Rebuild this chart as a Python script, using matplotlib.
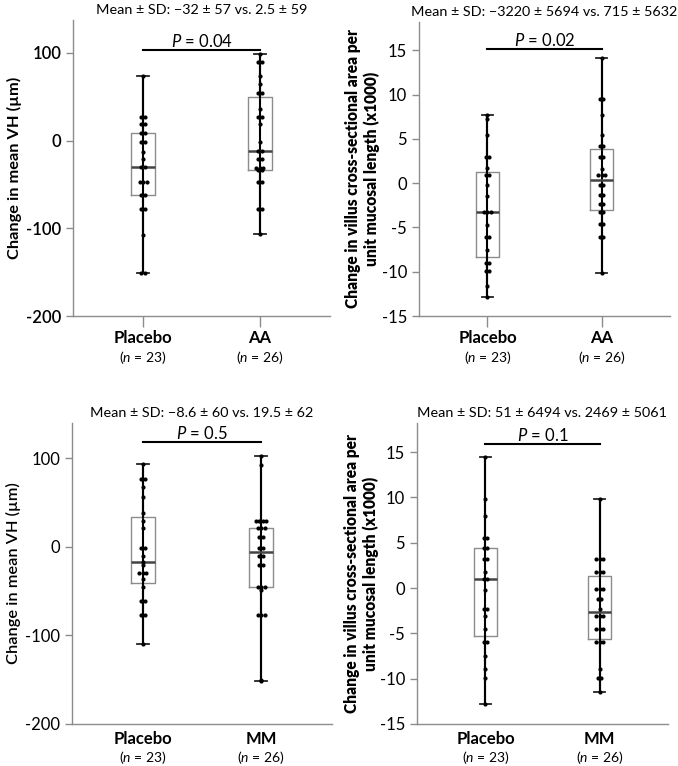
import matplotlib
matplotlib.use("Agg")
import matplotlib.pyplot as plt
import numpy as np
from collections import Counter

plt.rcParams['font.family'] = ['Lato', 'DejaVu Sans']
plt.rcParams['mathtext.fontset'] = 'custom'
plt.rcParams['mathtext.it'] = 'Lato:italic'
plt.rcParams['mathtext.rm'] = 'Lato'

# ---- data ----
groups_top = ["Placebo", "AA"]
groups_bot = ["Placebo", "MM"]
n_labels = ["($\\it{n}$ = 23)", "($\\it{n}$ = 26)"]

vh_placebo_aa = [-151, -151, -108, -78, -78, -62, -62, -47, -47, -47, -30, -30, -21, -13,
                 -2, -2, 9, 9, 19, 19, 27, 27, 74]
vh_aa = [-106, -78, -78, -47, -47, -34, -34, -31, -31, -31, -21, -21, -12, -12, -2, 19,
         27, 27, 36, 54, 54, 64, 74, 90, 90, 99]
area_placebo_aa = [-12.8, -11.6, -9.9, -9.9, -9.0, -9.0, -7.6, -6.1, -6.1, -4.7, -3.2, -3.2,
                   -3.2, -1.4, -0.2, 0.9, 0.9, 1.7, 3.0, 3.0, 5.4, 7.3, 7.7]
area_aa = [-10.1, -6.05, -6.05, -4.66, -4.66, -3.2, -3.2, -2.3, -2.3, -1.35, -1.35, -0.23,
           -0.23, 0.9, 0.9, 0.9, 1.65, 2.97, 2.97, 4.17, 4.17, 5.4, 7.67, 9.55, 9.55, 14.17]
vh_placebo_mm = [-110, -77, -77, -61, -61, -45, -37, -30, -30, -30, -21, -17, -11, -1, -1,
                 21, 29, 38, 56, 67, 76, 76, 93]
vh_mm = [-151, -150, -77, -77, -77, -49, -45, -45, -45, -21, -21, -11, -11, -1, -1, 11, 11,
         21, 21, 21, 29, 29, 29, 29, 92, 102]
area_placebo_mm = [-12.75, -9.9, -8.96, -7.5, -6.0, -6.0, -4.55, -3.1, -2.27, -2.27, -0.18,
                   0.96, 0.96, 1.77, 3.24, 3.24, 4.45, 4.45, 5.55, 5.55, 7.9, 9.8, 14.4]
area_mm = [-11.5, -9.88, -9.88, -8.96, -5.95, -5.95, -5.95, -4.55, -4.55, -4.55, -3.1, -3.1,
           -3.1, -2.3, -1.25, -1.25, -0.15, -0.15, -0.15, 1.77, 1.77, 1.77, 3.24, 3.24, 3.24, 9.86]

titles = ["Mean \u00b1 SD: \u221232 \u00b1 57 vs. 2.5 \u00b1 59",
          "Mean \u00b1 SD: \u22123220 \u00b1 5694 vs. 715 \u00b1 5632",
          "Mean \u00b1 SD: \u22128.6 \u00b1 60 vs. 19.5 \u00b1 62",
          "Mean \u00b1 SD: 51 \u00b1 6494 vs. 2469 \u00b1 5061"]
p_texts = ["0.04", "0.02", "0.5", "0.1"]
p_levels = [103, 15.2, 117.7, 15.85]
ylabel_vh = "Change in mean VH (\u00b5m)"
ylabel_area = "Change in villus cross-sectional area per\nunit mucosal length (x1000)"
yticks_vh = [-200, -100, 0, 100]
yticks_area = [-15, -10, -5, 0, 5, 10, 15]

W, H = 678, 766
fig = plt.figure(figsize=(W / 100, H / 100), dpi=100)


def ax_at(l, r, t, b):
    return fig.add_axes([l / W, 1 - b / H, (r - l) / W, (b - t) / H])


panels = [
    dict(ax=ax_at(73, 330, 20, 316), data=[vh_placebo_aa, vh_aa], cats=groups_top,
         ylim=(-200, 137.5), yticks=yticks_vh, ylabel=ylabel_vh, tickw='semibold',
         labw='bold', xtick=True, labx=-0.228),
    dict(ax=ax_at(419, 670, 22, 316), data=[area_placebo_aa, area_aa], cats=groups_top,
         ylim=(-15, 18.2), yticks=yticks_area, ylabel=ylabel_area, tickw='normal',
         labw='heavy', xtick=True, labx=-0.225),
    dict(ax=ax_at(72, 332, 423, 724), data=[vh_placebo_mm, vh_mm], cats=groups_bot,
         ylim=(-200, 139.5), yticks=yticks_vh, ylabel=ylabel_vh, tickw='normal',
         labw='semibold', xtick=False, labx=-0.226),
    dict(ax=ax_at(417, 668, 423, 724), data=[area_placebo_mm, area_mm], cats=groups_bot,
         ylim=(-15, 18.2), yticks=yticks_area, ylabel=ylabel_area, tickw='normal',
         labw='heavy', xtick=False, labx=-0.22),
]

gray = '#8c8c8c'
for i, p in enumerate(panels):
    ax = p['ax']
    pos = [0, 1]
    for k, d in enumerate(p['data']):
        ax.vlines(pos[k], min(d), max(d), color='black', lw=1.5, zorder=2)
    ax.boxplot(p['data'], positions=pos, widths=0.2, whis=(0, 100), showfliers=False,
               boxprops=dict(color=gray, lw=1.0),
               whiskerprops=dict(color='black', lw=1.5),
               capprops=dict(color='#222222', lw=1.3),
               medianprops=dict(color='#444444', lw=1.8),
               capwidths=0.1, zorder=3)
    # dots: duplicates side by side
    for k, d in enumerate(p['data']):
        cnt = Counter(d)
        xs, ys = [], []
        for v, c in cnt.items():
            offs = (np.arange(c) - (c - 1) / 2) * 0.03
            for o in offs:
                xs.append(pos[k] + o)
                ys.append(v)
        ax.plot(xs, ys, 'o', color='black', ms=3.0, mew=0, zorder=4)

    ax.set_xlim(-0.6, 1.6)
    ax.set_ylim(*p['ylim'])
    ax.set_yticks(p['yticks'])
    ax.set_yticklabels([str(t) for t in p['yticks']], fontsize=12, fontweight=p['tickw'])
    ax.set_xticks(pos)
    ax.set_xticklabels(p['cats'], fontsize=12, fontweight='bold')
    for sp in ['top', 'right']:
        ax.spines[sp].set_visible(False)
    for sp in ['left', 'bottom']:
        ax.spines[sp].set_color(gray)
        ax.spines[sp].set_linewidth(1.0)
    ax.tick_params(axis='y', colors=gray, length=5, width=1.0, labelcolor='black')
    if p['xtick']:
        ax.tick_params(axis='x', colors=gray, length=8, width=1.0, labelcolor='black', pad=2)
        ny = -0.14
    else:
        ax.tick_params(axis='x', length=0, labelcolor='black', pad=5)
        ny = -0.11
    for k in range(2):
        ax.text(pos[k], ny, n_labels[k], transform=ax.get_xaxis_transform(),
                ha='center', va='center', fontsize=10)
    if '\n' in p['ylabel']:
        ax.set_ylabel(p['ylabel'], fontsize=11.2, fontweight=p['labw'], linespacing=1.15)
    else:
        ax.set_ylabel(p['ylabel'], fontsize=11.8, fontweight=p['labw'])
    ax.yaxis.label.set_va('center')
    ax.yaxis.set_label_coords(p['labx'], 0.5)
    ax.set_title(titles[i], fontsize=10.4, pad=4)
    ax.plot(pos, [p_levels[i]] * 2, color='black', lw=1.5)
    ax.text(0.5, p_levels[i], "$\\it{P}$ = " + p_texts[i], ha='center', va='bottom',
            fontsize=12)

fig.savefig("out.png", dpi=100)
